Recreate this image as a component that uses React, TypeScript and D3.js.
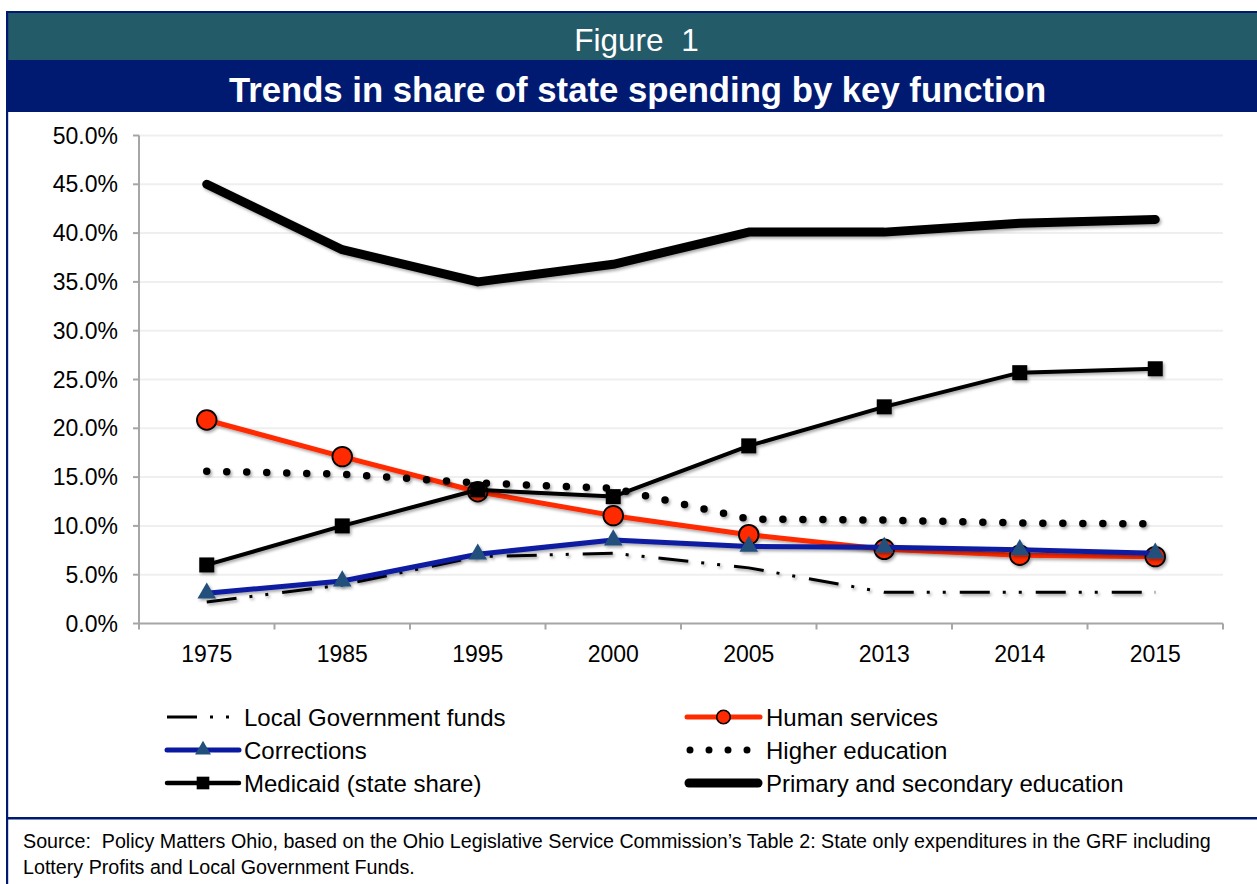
import React from "react";
import * as d3 from "d3";

const categories = ["1975", "1985", "1995", "2000", "2005", "2013", "2014", "2015"];
const localGovFunds = [2.2, 3.95, 6.85, 7.2, 5.7, 3.2, 3.2, 3.2];
const humanServices = [20.85, 17.1, 13.5, 11.05, 9.1, 7.6, 7.0, 6.85];
const corrections = [3.1, 4.35, 7.1, 8.55, 7.9, 7.8, 7.55, 7.2];
const higherEducation = [15.6, 15.3, 14.4, 13.85, 10.7, 10.6, 10.3, 10.2];
const medicaid = [6.0, 10.0, 13.7, 13.0, 18.2, 22.2, 25.7, 26.1];
const primarySecondary = [45.0, 38.3, 35.0, 36.8, 40.1, 40.1, 41.0, 41.4];
const yTicks = [0, 5, 10, 15, 20, 25, 30, 35, 40, 45, 50];

const FONT = "'Liberation Sans', Arial, Helvetica, sans-serif";
const NAVY = "#001A72";
const TEAL = "#245B68";
const RED = "#FF2A00";
const BLUE = "#0A1AA0";
const TRI = "#22507C";
const DASHDOT = "30 13 3 13 3 14";

export default function App() {
  const W = 1257;
  const H = 884;
  const x = d3.scaleBand<string>().domain(categories).range([139, 1223]).padding(0);
  const y = d3.scaleLinear().domain([0, 50]).range([623.5, 135.5]);
  const cx = (c: string) => (x(c) as number) + x.bandwidth() / 2;
  const line = d3
    .line<number>()
    .x((_, i) => cx(categories[i]))
    .y((d) => y(d));
  const tri = d3.symbol(d3.symbolTriangle, 150)() as string;
  const sq = d3.symbol(d3.symbolSquare, 225)() as string;
  const triL = d3.symbol(d3.symbolTriangle, 110)() as string;
  const sqL = d3.symbol(d3.symbolSquare, 160)() as string;
  const fmt = d3.format(".1f");

  const legRows = [717, 750, 783];
  const lx0 = 167, lx1 = 239, ltx = 244;
  const rx0 = 687, rx1 = 760, rtx = 766;
  const legText = { fontFamily: FONT, fontSize: 24, fill: "#000" } as const;

  return (
    <svg
      width={W}
      height={H}
      viewBox={`0 0 ${W} ${H}`}
      style={{ position: "absolute", left: 0, top: 0, background: "#fff" }}
    >
      <defs>
        <filter id="sh" x="-10%" y="-10%" width="120%" height="130%">
          <feDropShadow dx="1.5" dy="2" stdDeviation="1.5" floodColor="#000" floodOpacity="0.35" />
        </filter>
      </defs>
      <rect x={0} y={0} width={W} height={H} fill="#fff" />
      {/* header */}
      <rect x={7} y={11} width={W - 7} height={2.5} fill={NAVY} />
      <rect x={8} y={13} width={W - 8} height={47} fill={TEAL} />
      <rect x={8} y={60} width={W - 8} height={52} fill={NAVY} />
      <text x={636.5} y={51} textAnchor="middle" fill="#fff" fontFamily={FONT} fontSize={31.5} xmlSpace="preserve">
        Figure  1
      </text>
      <text x={637.5} y={102} textAnchor="middle" fill="#fff" fontFamily={FONT} fontSize={34.7} fontWeight="bold">
        Trends in share of state spending by key function
      </text>
      {/* frame */}
      <rect x={6} y={11} width={2.2} height={H - 11} fill={NAVY} />
      <rect x={7} y={817} width={W - 7} height={2.5} fill={NAVY} />

      {/* grid */}
      {yTicks.map((t) =>
        t === 0 ? null : (
          <line key={"g" + t} x1={139} x2={1223} y1={y(t)} y2={y(t)} stroke="#EFEFEF" strokeWidth={2} />
        )
      )}
      {/* axes */}
      <line x1={139} x2={139} y1={y(50)} y2={y(0)} stroke="#A6A6A6" strokeWidth={2} />
      <line x1={139} x2={1223} y1={y(0)} y2={y(0)} stroke="#A6A6A6" strokeWidth={2} />
      {yTicks.map((t) => (
        <g key={"yt" + t}>
          <line x1={133} x2={139} y1={y(t)} y2={y(t)} stroke="#A6A6A6" strokeWidth={2} />
          <text x={118} y={y(t) + 8} textAnchor="end" fontFamily={FONT} fontSize={23} fill="#000">
            {fmt(t) + "%"}
          </text>
        </g>
      ))}
      {categories.map((c) => (
        <line
          key={"xt" + c}
          x1={x(c) as number}
          x2={x(c) as number}
          y1={y(0)}
          y2={y(0) + 6}
          stroke="#A6A6A6"
          strokeWidth={2}
        />
      ))}
      <line x1={1223} x2={1223} y1={y(0)} y2={y(0) + 6} stroke="#A6A6A6" strokeWidth={2} />
      {categories.map((c) => (
        <text key={"xl" + c} x={cx(c)} y={662} textAnchor="middle" fontFamily={FONT} fontSize={23} fill="#000">
          {c}
        </text>
      ))}

      {/* series */}
      <g filter="url(#sh)">
        <path d={line(localGovFunds) as string} fill="none" stroke="#000" strokeWidth={3} strokeDasharray={DASHDOT} />
      </g>
      <g filter="url(#sh)">
        <path d={line(humanServices) as string} fill="none" stroke={RED} strokeWidth={5} strokeLinejoin="round" />
        {humanServices.map((v, i) => (
          <circle key={"hs" + i} cx={cx(categories[i])} cy={y(v)} r={9.8} fill={RED} stroke="#000" strokeWidth={1.8} />
        ))}
      </g>
      <g filter="url(#sh)">
        <path d={line(corrections) as string} fill="none" stroke={BLUE} strokeWidth={5} strokeLinejoin="round" />
        {corrections.map((v, i) => (
          <path key={"co" + i} d={tri} transform={`translate(${cx(categories[i])},${y(v)})`} fill={TRI} />
        ))}
      </g>
      <g filter="url(#sh)">
        <path
          d={line(higherEducation) as string}
          fill="none"
          stroke="#000"
          strokeWidth={7.5}
          strokeLinecap="round"
          strokeDasharray="0 20"
        />
      </g>
      <g filter="url(#sh)">
        <path d={line(medicaid) as string} fill="none" stroke="#000" strokeWidth={4} strokeLinejoin="round" />
        {medicaid.map((v, i) => (
          <path key={"md" + i} d={sq} transform={`translate(${cx(categories[i])},${y(v)})`} fill="#000" />
        ))}
      </g>
      <g filter="url(#sh)">
        <path
          d={line(primarySecondary) as string}
          fill="none"
          stroke="#000"
          strokeWidth={9}
          strokeLinecap="round"
          strokeLinejoin="round"
        />
      </g>

      {/* legend left */}
      <line x1={lx0} x2={lx1} y1={legRows[0]} y2={legRows[0]} stroke="#000" strokeWidth={3} strokeDasharray={DASHDOT} />
      <text x={ltx} y={legRows[0] + 8.5} {...legText}>Local Government funds</text>
      <line x1={lx0} x2={lx1} y1={legRows[1]} y2={legRows[1]} stroke={BLUE} strokeWidth={5} strokeLinecap="round" />
      <path d={triL} transform={`translate(${(lx0 + lx1) / 2},${legRows[1]})`} fill={TRI} />
      <text x={ltx} y={legRows[1] + 8.5} {...legText}>Corrections</text>
      <line x1={lx0} x2={lx1} y1={legRows[2]} y2={legRows[2]} stroke="#000" strokeWidth={4.5} strokeLinecap="round" />
      <path d={sqL} transform={`translate(${(lx0 + lx1) / 2},${legRows[2]})`} fill="#000" />
      <text x={ltx} y={legRows[2] + 8.5} {...legText}>Medicaid (state share)</text>

      {/* legend right */}
      <line x1={rx0} x2={rx1} y1={legRows[0]} y2={legRows[0]} stroke={RED} strokeWidth={5} strokeLinecap="round" />
      <circle cx={(rx0 + rx1) / 2} cy={legRows[0]} r={6.8} fill={RED} stroke="#000" strokeWidth={1.6} />
      <text x={rtx} y={legRows[0] + 8.5} {...legText}>Human services</text>
      <line
        x1={rx0 + 3}
        x2={rx1}
        y1={legRows[1]}
        y2={legRows[1]}
        stroke="#000"
        strokeWidth={7}
        strokeLinecap="round"
        strokeDasharray="0 19"
      />
      <text x={rtx} y={legRows[1] + 8.5} {...legText}>Higher education</text>
      <line x1={rx0 + 2} x2={rx1 - 2} y1={legRows[2]} y2={legRows[2]} stroke="#000" strokeWidth={9} strokeLinecap="round" />
      <text x={rtx} y={legRows[2] + 8.5} {...legText}>Primary and secondary education</text>

      {/* source */}
      <text x={23} y={848} fontFamily={FONT} fontSize={19.7} fill="#000" xmlSpace="preserve">
        Source:  Policy Matters Ohio, based on the Ohio Legislative Service Commission’s Table 2: State only expenditures in the GRF including
      </text>
      <text x={23} y={874} fontFamily={FONT} fontSize={19.7} fill="#000">
        Lottery Profits and Local Government Funds.
      </text>
    </svg>
  );
}
